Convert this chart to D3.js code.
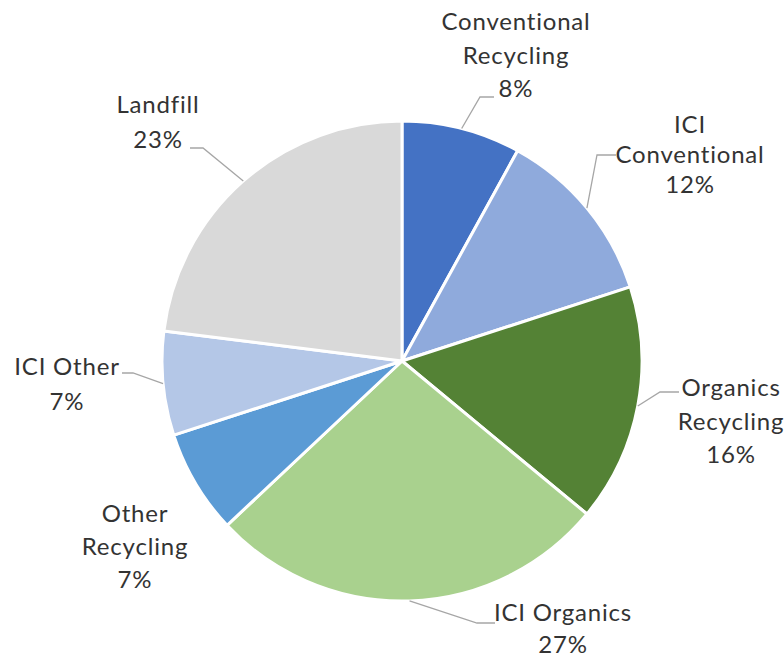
<!DOCTYPE html>
<html>
<head>
<meta charset="utf-8">
<script src="https://cdn.jsdelivr.net/npm/d3@7/dist/d3.min.js"></script>
<style>
  html, body { margin: 0; padding: 0; background: #ffffff; }
  svg { display: block; }
  text { font-family: Lato, "Open Sans", sans-serif; fill: #333333;
         font-variant-ligatures: none; font-feature-settings: "liga" 0; letter-spacing: 0.8px; }
</style>
</head>
<body>
<svg id="chart" width="784" height="657"></svg>
<script>
// Waste stream shares (percent), clockwise from 12 o'clock
const categories = ["Conventional Recycling", "ICI Conventional", "Organics Recycling",
                    "ICI Organics", "Other Recycling", "ICI Other", "Landfill"];
const shares = [8, 12, 16, 27, 7, 7, 23];
const labelLines = [
  ["Conventional", "Recycling", "8%"],
  ["ICI", "Conventional", "12%"],
  ["Organics", "Recycling", "16%"],
  ["ICI Organics", "27%"],
  ["Other", "Recycling", "7%"],
  ["ICI Other", "7%"],
  ["Landfill", "23%"]
];
const sliceColors = ["#4472C4", "#8FAADC", "#548235", "#A9D18E", "#5B9BD5", "#B4C7E7", "#D9D9D9"];

// Layout: pie geometry and label placement
const cx = 402, cy = 361, radius = 240;
const fontSize = 24;
// x = text centre, y = first baseline, gap = line spacing, elbow = leader bend, end = leader end
const labelLayout = [
  { x: 516, y: 30,  gap: 33.5, elbow: [480, 97],  end: [494, 97] },
  { x: 690, y: 133, gap: 30,   elbow: [597, 155], end: [616, 155] },
  { x: 731, y: 396, gap: 33.5, elbow: [660, 392], end: [679, 392] },
  { x: 563, y: 621, gap: 32,   elbow: [477, 623], end: [495, 623] },
  { x: 135, y: 522, gap: 33,   elbow: null,       end: null },
  { x: 67,  y: 375, gap: 35,   elbow: [133, 373], end: [122, 373] },
  { x: 158, y: 113, gap: 35,   elbow: [203, 148], end: [190, 148] }
];

const svg = d3.select("#chart");
const g = svg.append("g").attr("transform", `translate(${cx},${cy})`);

const pie = d3.pie().sort(null).value(d => d.value);
const arcs = pie(categories.map((c, i) => ({ name: c, value: shares[i], i })));

const arc = d3.arc().innerRadius(0).outerRadius(radius);
const edge = d3.arc().innerRadius(radius).outerRadius(radius);

g.selectAll("path.slice")
  .data(arcs)
  .join("path")
  .attr("class", "slice")
  .attr("d", arc)
  .attr("fill", d => sliceColors[d.data.i])
  .attr("stroke", "#ffffff")
  .attr("stroke-width", 3)
  .attr("stroke-linejoin", "round");

// Leader lines from the rim to the labels
const leaders = svg.append("g");
arcs.forEach(d => {
  const L = labelLayout[d.data.i];
  if (!L.elbow) return;
  const [px, py] = edge.centroid(d);
  leaders.append("polyline")
    .attr("points", [[cx + px, cy + py], L.elbow, L.end].map(p => p.join(",")).join(" "))
    .attr("fill", "none")
    .attr("stroke", "#a6a6a6")
    .attr("stroke-width", 1.3);
});

// Category labels
const labels = svg.append("g");
arcs.forEach(d => {
  const L = labelLayout[d.data.i];
  const t = labels.append("text")
    .attr("text-anchor", "middle")
    .attr("font-size", fontSize);
  labelLines[d.data.i].forEach((line, k) => {
    t.append("tspan").attr("x", L.x).attr("y", L.y + k * L.gap).text(line);
  });
});
</script>
</body>
</html>
